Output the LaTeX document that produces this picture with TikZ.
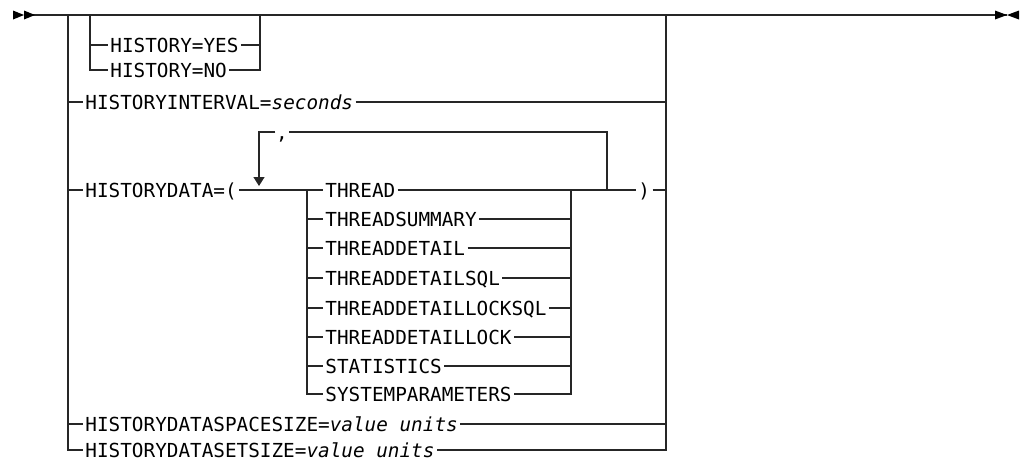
\documentclass[tikz,border=0pt]{standalone}
\usepackage{fontspec}
\setmainfont{DejaVu Sans Mono}
\usetikzlibrary{arrows.meta}
\begin{document}
\begin{tikzpicture}[x=0.02cm,y=-0.02cm,line width=0.8pt,draw=black!85,
    kw/.style={inner xsep=1pt,inner ysep=0pt,anchor=west,text height=0.9em,text depth=0pt,
      font=\fontsize{11}{13}\selectfont},
    repsep/.style={inner sep=0pt,anchor=base,font=\fontsize{11}{13}\selectfont},
    loopback/.style={-{Triangle[width=6.2pt,length=5.1pt]}}]
    \useasboundingbox (0,0) rectangle (1029,461);
    % main line with start and end marks
    \coordinate (in) at (24,15);
    \coordinate (out) at (1007,15);
    \draw (in) -- (out);
    \fill (13,10.5) -- (24,15) -- (13,19.5) -- cycle;
    \fill (24,10.5) -- (35,15) -- (24,19.5) -- cycle;
    \fill (995,10.5) -- (1007,15) -- (995,19.5) -- cycle;
    \fill (1019,10.5) -- (1007,15) -- (1019,19.5) -- cycle;
    % options
    \node [kw] (yes) at (108,45) {HISTORY=YES};
    \node [kw] (no) at (108,70) {HISTORY=NO};
    \node [kw] (interval) at (83,102) {HISTORYINTERVAL=\textit{seconds}};
    \node [kw] (data) at (83,190) {HISTORYDATA=(};
    \node [kw] (spacesize) at (83,424) {HISTORYDATASPACESIZE=\textit{value units}};
    \node [kw] (setsize) at (83,450) {HISTORYDATASETSIZE=\textit{value units}};
    % data types
    \node [kw] (thread) at (323,190) {THREAD};
    \node [kw] (summary) at (323,219) {THREADSUMMARY};
    \node [kw] (detail) at (323,248) {THREADDETAIL};
    \node [kw] (detailsql) at (323,278) {THREADDETAILSQL};
    \node [kw] (locksql) at (323,308) {THREADDETAILLOCKSQL};
    \node [kw] (lock) at (323,337) {THREADDETAILLOCK};
    \node [kw] (stats) at (323,366) {STATISTICS};
    \node [kw] (sysparam) at (323,394) {SYSTEMPARAMETERS};
    \node [kw] (close) at (636,190) {)};
    \node [repsep] (comma) at (282,139) {,};
    % outer choice
    \coordinate (lbus) at (68,15);
    \coordinate (rbus) at (666,15);
    \draw (lbus) |- (setsize.west);
    \draw (lbus |- interval.west) -- (interval.west);
    \draw (lbus |- data.west) -- (data.west);
    \draw (lbus |- spacesize.west) -- (spacesize.west);
    \draw (rbus) |- (setsize.east);
    \draw (interval.east) -- (rbus |- interval.east);
    \draw (close.east) -- (rbus |- close.east);
    \draw (spacesize.east) -- (rbus |- spacesize.east);
    % YES / NO
    \coordinate (hl) at (90,15);
    \coordinate (hr) at (260,15);
    \draw (hl) |- (no.west);
    \draw (hl |- yes.west) -- (yes.west);
    \draw (hr) |- (no.east);
    \draw (yes.east) -- (hr |- yes.east);
    % data type choice
    \coordinate (cl) at (307,190);
    \coordinate (cr) at (571,190);
    \draw (data.east) -- (thread.west);
    \draw (thread.east) -- (close.west);
    \draw (cl) |- (sysparam.west);
    \draw (cr) |- (sysparam.east);
    \draw (cl |- summary.west) -- (summary.west);
    \draw (cl |- detail.west) -- (detail.west);
    \draw (cl |- detailsql.west) -- (detailsql.west);
    \draw (cl |- locksql.west) -- (locksql.west);
    \draw (cl |- lock.west) -- (lock.west);
    \draw (cl |- stats.west) -- (stats.west);
    \draw (summary.east) -- (cr |- summary.east);
    \draw (detail.east) -- (cr |- detail.east);
    \draw (detailsql.east) -- (cr |- detailsql.east);
    \draw (locksql.east) -- (cr |- locksql.east);
    \draw (lock.east) -- (cr |- lock.east);
    \draw (stats.east) -- (cr |- stats.east);
    % repeat loop
    \coordinate (lt) at (259,132);
    \coordinate (rt) at (607,132);
    \draw (rt |- close.west) -- (rt) -- (rt -| comma.east);
    \draw [loopback] (lt -| comma.west) -- (lt) -- (259,186);
\end{tikzpicture}
\end{document}
